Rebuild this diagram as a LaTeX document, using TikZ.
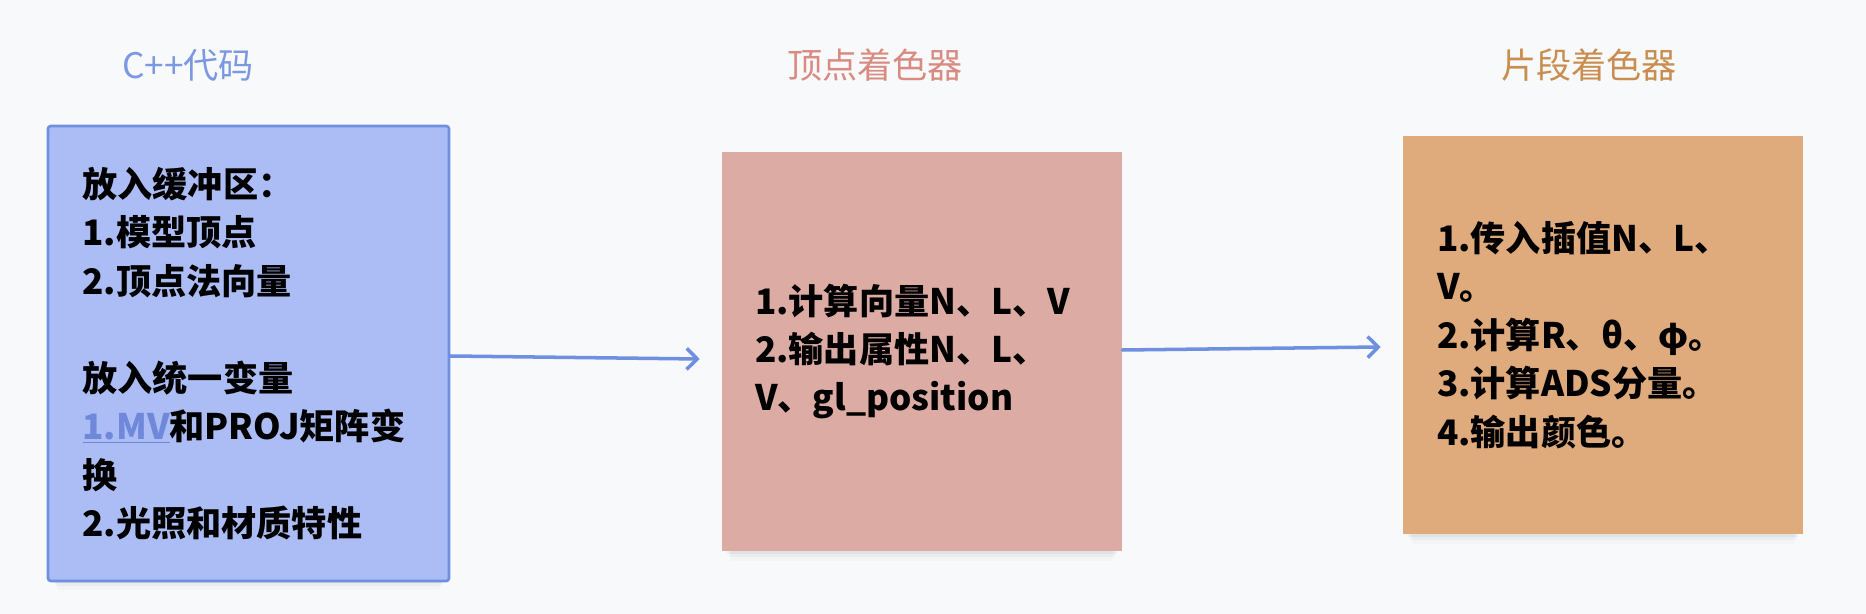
\documentclass[tikz,border=0pt]{standalone}
\usepackage{fontspec}
\setmainfont{Noto Sans CJK SC}
\newfontfamily\cjk{Noto Sans CJK SC}
\usetikzlibrary{arrows.meta,shadows}
\definecolor{bgc}{HTML}{F8F9FB}
\definecolor{blueF}{HTML}{ABBDF4}
\definecolor{blueD}{HTML}{6F8FE0}
\definecolor{pinkF}{HTML}{DCACA4}
\definecolor{orangeF}{HTML}{DFAA7C}
\definecolor{tblue}{HTML}{7B98E3}
\definecolor{tpink}{HTML}{D98B82}
\definecolor{torange}{HTML}{C98D4F}
\definecolor{linkblue}{HTML}{7088DA}
\tikzset{
  softshadow/.style={
    general shadow={fill=black,opacity=0.06,shadow scale=0.985,shadow yshift=-0.07cm},
    general shadow={fill=black,opacity=0.04,shadow scale=0.975,shadow yshift=-0.16cm},
    general shadow={fill=black,opacity=0.03,shadow scale=0.965,shadow yshift=-0.27cm},
    general shadow={fill=black,opacity=0.02,shadow scale=0.955,shadow yshift=-0.40cm}},
  card/.style={rectangle, softshadow, inner ysep=0pt, align=left,
    font=\cjk\bfseries\fontsize{20}{27.6}\selectfont, text=black},
  ttl/.style={font=\cjk\fontsize{20}{24}\selectfont, inner sep=0pt},
  arr/.style={draw=blueD, line width=2pt, line cap=round,
    -{Straight Barb[length=6pt,width=12pt,line width=2pt]}}
}
\begin{document}
\begin{tikzpicture}[x=0.02cm,y=-0.02cm]
\fill[bgc] (0,0) rectangle (1866,614);
\useasboundingbox (0,0) rectangle (1866,614);

\node[ttl, text=tblue] (t1) at (188,65) {C++代码};
\node[ttl, text=tpink] (t2) at (875,65) {顶点着色器};
\node[ttl, text=torange] (t3) at (1589,65) {片段着色器};

\node[card, fill=blueF, draw=blueD, line width=1.5pt, rounded corners=1.5pt,
  minimum width=8.02cm, minimum height=9.1cm, inner xsep=0.69cm, text width=6.64cm]
  (b1) at (248.5,353.5)
  {放入缓冲区：\\1.模型顶点\\2.顶点法向量\\[27.6pt]放入统一变量\\\textcolor{linkblue}{\underline{1.MV}}和PROJ矩阵变\\换\\2.光照和材质特性};

\node[card, fill=pinkF, minimum width=8cm, minimum height=7.98cm,
  inner xsep=0.66cm, text width=6.68cm]
  (b2) at (922,351.5)
  {1.计算向量N、L、V\\2.输出属性N、L、\\V、gl\_position};

\node[card, fill=orangeF, minimum width=8cm, minimum height=7.96cm,
  inner xsep=0.68cm, text width=6.64cm]
  (b3) at (1603,335)
  {1.传入插值N、L、\\V。\\2.计算R、θ、φ。\\3.计算ADS分量。\\4.输出颜色。};

\draw[arr] ([yshift=-0.05cm]b1.east) -- ([xshift=-0.44cm,yshift=-0.15cm]b2.west);
\draw[arr] ([yshift=0.03cm]b2.east) -- ([xshift=-0.44cm,yshift=-0.24cm]b3.west);
\end{tikzpicture}
\end{document}
